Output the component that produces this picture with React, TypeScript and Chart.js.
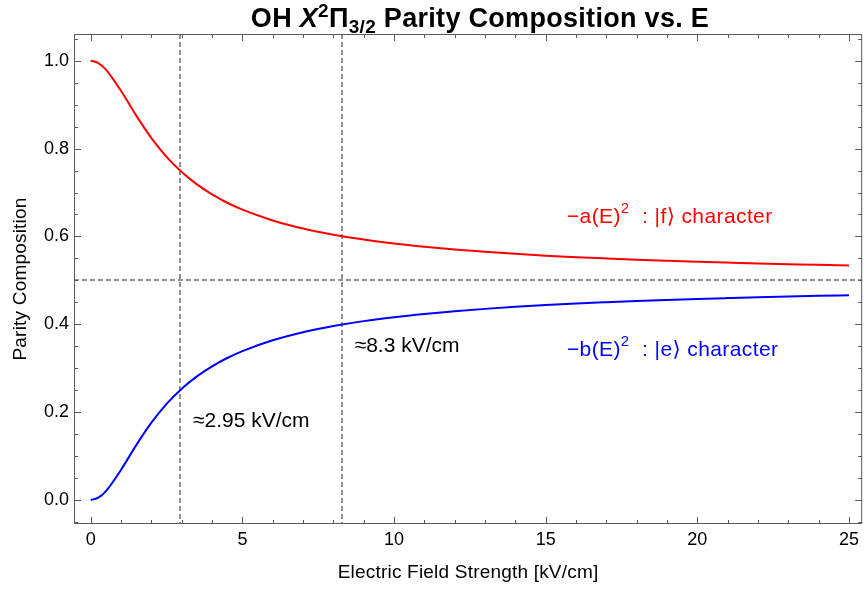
import React, { useEffect, useRef } from "react";
import { Chart, registerables } from "chart.js";

Chart.register(...registerables);

// Electric field strength samples [kV/cm]
const fieldKVcm = [0, 0.25, 0.5, 1, 1.5, 2, 2.5, 3, 3.5, 4, 4.5, 5, 6, 7, 8, 9, 10, 11, 12, 13, 14, 15, 16, 17, 18, 19, 20, 21, 22, 23, 24, 25];
// a(E)^2 : |f> character (red)
const fCharacter = [1, 0.9947, 0.9797, 0.931, 0.875, 0.8239, 0.7812, 0.7465, 0.7185, 0.6956, 0.6767, 0.661, 0.6364, 0.618, 0.604, 0.5928, 0.5838, 0.5764, 0.5702, 0.5649, 0.5603, 0.5563, 0.5528, 0.5498, 0.547, 0.5446, 0.5424, 0.5404, 0.5385, 0.5369, 0.5353, 0.534];
// b(E)^2 : |e> character (blue)
const eCharacter = [0, 0.0053, 0.0203, 0.069, 0.125, 0.1761, 0.2188, 0.2535, 0.2815, 0.3044, 0.3233, 0.339, 0.3636, 0.382, 0.396, 0.4072, 0.4162, 0.4236, 0.4298, 0.4351, 0.4397, 0.4437, 0.4472, 0.4502, 0.453, 0.4554, 0.4576, 0.4596, 0.4615, 0.4631, 0.4647, 0.466];

const xTickValues = [0, 5, 10, 15, 20, 25];
const yTickValues = [0, 0.2, 0.4, 0.6, 0.8, 1.0];
const markerFields = [2.95, 8.3];
const markerLabels = ["≈2.95 kV/cm", "≈8.3 kV/cm"];
const halfLevel = 0.5;

const FONT = '"Liberation Sans", Arial, "DejaVu Sans", sans-serif';

type Seg = { t: string; font: string; dy?: number };

function drawRich(ctx: CanvasRenderingContext2D, segs: Seg[], x: number, y: number, align: "left" | "center", color: string, spacing = 0) {
  ctx.save();
  ctx.textBaseline = "alphabetic";
  ctx.textAlign = "left";
  ctx.fillStyle = color;
  (ctx as any).letterSpacing = `${spacing}px`;
  const widths = segs.map((s) => {
    ctx.font = s.font;
    return ctx.measureText(s.t).width;
  });
  const total = widths.reduce((a, b) => a + b, 0);
  let cx = align === "center" ? x - total / 2 : x;
  segs.forEach((s, i) => {
    ctx.font = s.font;
    ctx.fillText(s.t, cx, y + (s.dy || 0));
    cx += widths[i];
  });
  ctx.restore();
}

const decorPlugin = {
  id: "decor",
  beforeDatasetsDraw(chart: any) {
    const { ctx, chartArea: a, scales } = chart;
    const xs = scales.x;
    const ys = scales.y;
    ctx.save();
    ctx.strokeStyle = "#929292";
    ctx.lineWidth = 2;
    ctx.setLineDash([5, 3]);
    const yh = Math.round(ys.getPixelForValue(halfLevel));
    ctx.beginPath();
    ctx.moveTo(a.left, yh);
    ctx.lineTo(a.right, yh);
    ctx.stroke();
    markerFields.forEach((f) => {
      const xp = Math.round(xs.getPixelForValue(f));
      ctx.beginPath();
      ctx.moveTo(xp, a.top);
      ctx.lineTo(xp, a.bottom);
      ctx.stroke();
    });
    ctx.restore();
  },
  afterDatasetsDraw(chart: any) {
    const { ctx, chartArea: a, scales } = chart;
    const xs = scales.x;
    const ys = scales.y;
    ctx.save();
    // frame
    ctx.strokeStyle = "#5a5a5a";
    ctx.lineWidth = 1;
    ctx.setLineDash([]);
    ctx.strokeRect(a.left + 0.5, a.top + 0.5, a.right - a.left - 1, a.bottom - a.top - 1);
    // x ticks (bottom & top)
    for (let val = 0; val <= 25; val += 1) {
      const major = val % 5 === 0;
      const len = major ? 7 : 4;
      const xp = Math.round(xs.getPixelForValue(val)) + 0.5;
      ctx.beginPath();
      ctx.moveTo(xp, a.bottom);
      ctx.lineTo(xp, a.bottom - len);
      ctx.moveTo(xp, a.top);
      ctx.lineTo(xp, a.top + len);
      ctx.stroke();
    }
    // y ticks (left & right)
    for (let k = -1; k <= 21; k++) {
      const val = k * 0.05;
      if (val < ys.min || val > ys.max) continue;
      const major = k % 4 === 0;
      const len = major ? 7 : 4;
      const yp = Math.round(ys.getPixelForValue(val)) + 0.5;
      ctx.beginPath();
      ctx.moveTo(a.left, yp);
      ctx.lineTo(a.left + len, yp);
      ctx.moveTo(a.right, yp);
      ctx.lineTo(a.right - len, yp);
      ctx.stroke();
    }
    ctx.restore();

    // axis titles
    ctx.save();
    ctx.fillStyle = "#000";
    ctx.font = `19px ${FONT}`;
    (ctx as any).letterSpacing = "0.2px";
    ctx.textAlign = "center";
    ctx.textBaseline = "alphabetic";
    ctx.fillText("Electric Field Strength [kV/cm]", (a.left + a.right) / 2, 578);
    ctx.translate(26, (a.top + a.bottom) / 2);
    ctx.rotate(-Math.PI / 2);
    ctx.fillText("Parity Composition", 0, 0);
    ctx.restore();

    // title
    const tb = `bold 27px ${FONT}`;
    const ts = `bold 19px ${FONT}`;
    drawRich(
      ctx,
      [
        { t: "OH ", font: tb },
        { t: "X", font: `italic ${tb}` },
        { t: "2", font: ts, dy: -10 },
        { t: "Π", font: tb },
        { t: "3/2", font: ts, dy: 6 },
        { t: " Parity Composition vs. E", font: tb },
      ],
      480,
      27,
      "center",
      "#000",
      0.3
    );

    // marker annotations
    const af = `21px ${FONT}`;
    const sup = `15px ${FONT}`;
    const labelPos = [
      [3.37, 0.167],
      [8.7, 0.3376],
    ];
    markerLabels.forEach((lab, i) => {
      drawRich(ctx, [{ t: lab, font: af }], xs.getPixelForValue(labelPos[i][0]), ys.getPixelForValue(labelPos[i][1]), "left", "#000");
    });
    drawRich(
      ctx,
      [
        { t: "−a(E)", font: af },
        { t: "2", font: sup, dy: -10 },
        { t: "  : |f⟩ character", font: af },
      ],
      xs.getPixelForValue(15.7),
      ys.getPixelForValue(0.63),
      "left",
      "#ff0000",
      0.4
    );
    drawRich(
      ctx,
      [
        { t: "−b(E)", font: af },
        { t: "2", font: sup, dy: -10 },
        { t: "  : |e⟩ character", font: af },
      ],
      xs.getPixelForValue(15.7),
      ys.getPixelForValue(0.3285),
      "left",
      "#0000ff",
      0.4
    );
  },
};

export default function App() {
  const ref = useRef<HTMLCanvasElement | null>(null);
  useEffect(() => {
    if (!ref.current) return;
    const chart = new Chart(ref.current, {
      type: "line",
      data: {
        datasets: [
          {
            label: "a(E)^2",
            data: fieldKVcm.map((x, i) => ({ x, y: fCharacter[i] })),
            borderColor: "#ff0000",
            borderWidth: 2,
            pointRadius: 0,
            cubicInterpolationMode: "monotone",
          },
          {
            label: "b(E)^2",
            data: fieldKVcm.map((x, i) => ({ x, y: eCharacter[i] })),
            borderColor: "#0000ff",
            borderWidth: 2,
            pointRadius: 0,
            cubicInterpolationMode: "monotone",
          },
        ],
      },
      options: {
        responsive: false,
        animation: false,
        devicePixelRatio: 1,
        layout: { padding: { top: 34, right: 1, left: 0, bottom: 0 } },
        plugins: { legend: { display: false }, tooltip: { enabled: false }, title: { display: false } },
        scales: {
          x: {
            type: "linear",
            min: -0.553,
            max: 25.435,
            grid: { display: false, drawTicks: false },
            border: { display: false },
            ticks: {
              padding: 5,
              color: "#000",
              font: { family: FONT, size: 18 },
              maxRotation: 0,
              callback: (v: any) => String(v),
            },
            afterBuildTicks: (s: any) => {
              s.ticks = xTickValues.map((v) => ({ value: v }));
            },
            afterFit: (s: any) => {
              s.height = 65;
            },
          },
          y: {
            type: "linear",
            min: -0.0546,
            max: 1.0608,
            grid: { display: false, drawTicks: false },
            border: { display: false },
            ticks: {
              padding: 5,
              color: "#000",
              font: { family: FONT, size: 18 },
              callback: (v: any) => Number(v).toFixed(1),
            },
            afterBuildTicks: (s: any) => {
              s.ticks = yTickValues.map((v) => ({ value: v }));
            },
            afterFit: (s: any) => {
              s.width = 74;
            },
          },
        },
      } as any,
      plugins: [decorPlugin],
    });
    return () => chart.destroy();
  }, []);
  return (
    <div style={{ position: "fixed", left: 0, top: 0, width: 864, height: 589, background: "#fff" }}>
      <canvas ref={ref} width={864} height={589} style={{ width: 864, height: 589, display: "block" }} />
    </div>
  );
}
